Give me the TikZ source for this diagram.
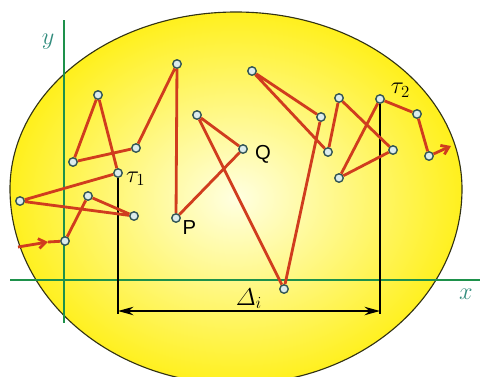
\documentclass[tikz,border=0pt]{standalone}
\usepackage{amsmath}
\usepackage{fontspec}
\newfontfamily\pqfont{Liberation Sans}
\usetikzlibrary{arrows.meta, positioning}

\definecolor{walkred}{RGB}{208,60,30}
\definecolor{dotfill}{RGB}{220,236,236}
\definecolor{dotrim}{RGB}{50,85,85}
\definecolor{axisgreen}{RGB}{30,145,75}
\definecolor{axistext}{RGB}{50,140,125}
\definecolor{ovalin}{RGB}{255,255,225}
\definecolor{ovalout}{RGB}{255,240,30}
\definecolor{ovalrim}{RGB}{50,50,20}

\begin{document}
\begin{tikzpicture}[x=0.025cm, y=-0.025cm, >=Stealth,
    dot/.style={circle, draw=dotrim, fill=dotfill, line width=1pt, minimum size=6pt, inner sep=0pt},
    walk/.style={draw=walkred, line width=2pt, line join=round},
    axis/.style={draw=axisgreen, line width=1.3pt},
    gauge/.style={draw=black, line width=1pt},
    lbl/.style={font=\LARGE, inner sep=1pt}]
  \useasboundingbox (0,0) rectangle (480,376);
  \clip (0,0) rectangle (480,376);

  % the oval
  \shadedraw[inner color=ovalin, outer color=ovalout, draw=ovalrim, line width=0.8pt]
    (10,189) arc[start angle=180, end angle=360, x radius=226, y radius=177]
    arc[start angle=0, end angle=180, x radius=226, y radius=195] -- cycle;

  % axes
  \coordinate (xa) at (10,280);
  \coordinate (xb) at (480,280);
  \coordinate (ya) at (64,20);
  \coordinate (yb) at (64,323);
  \draw[axis] (xa) -- (xb);
  \draw[axis] (ya) -- (yb);
  \node[lbl, text=axistext] (xl) at (466,294) {$x$};
  \node[lbl, text=axistext] (yl) at (48,42) {$y$};

  % points of the walk
  \node[dot] (i)  at (65,241)  {};
  \node[dot] (g)  at (88,196)  {};
  \node[dot] (h)  at (134,216) {};
  \node[dot] (f)  at (20,201)  {};
  \node[dot] (t1) at (118,173) {};
  \node[dot] (a)  at (98,95)   {};
  \node[dot] (b)  at (73,162)  {};
  \node[dot] (c)  at (136,148) {};
  \node[dot] (d)  at (177,64)  {};
  \node[dot] (p)  at (176,218) {};
  \node[dot] (q)  at (243,149) {};
  \node[dot] (e)  at (197,115) {};
  \node[dot] (z)  at (284,289) {};
  \node[dot] (k)  at (321,117) {};
  \node[dot] (j)  at (252,71)  {};
  \node[dot] (l)  at (328,152) {};
  \node[dot] (m)  at (339,98)  {};
  \node[dot] (r)  at (393,150) {};
  \node[dot] (s)  at (339,178) {};
  \node[dot] (t2) at (380,99)  {};
  \node[dot] (o)  at (417,114) {};
  \node[dot] (t)  at (429,156) {};
  \coordinate (in)    at (18,247);
  \coordinate (inarr) at (48,242);
  \coordinate (out)   at (451,146);

  % labels
  \node[lbl, right=1pt of t1, yshift=-4pt] (t1l) {$\tau_1$};
  \node[lbl, right=3pt of t2, yshift=6pt] (t2l) {$\tau_2$};
  \node[lbl, font=\Large\pqfont, below right=-2pt and 1pt of p] (pl) {P};
  \node[lbl, font=\Large\pqfont, right=4pt of q, yshift=-4pt] (ql) {Q};

  % the interval
  \coordinate (f1) at (118,314);
  \coordinate (f2) at (380,314);
  \coordinate (a1) at (118,311);
  \coordinate (a2) at (380,311);
  \draw[gauge] (t1) -- (f1);
  \draw[gauge] (t2) -- (f2);
  \draw[gauge, {Stealth[length=11pt, width=6pt]}-{Stealth[length=11pt, width=6pt]}] (a1) -- node[lbl, above=0pt] (dl) {$\varDelta_i$} (a2);

  % the walk
  \draw[walk, -{Straight Barb[length=5pt, width=7pt]}] (in) -- (inarr);
  \draw[walk] (inarr) -- (i);
  \draw[walk] (i) -- (g) -- (h) -- (f) -- (t1) -- (a) -- (b) -- (c) -- (d) -- (p) -- (q) -- (e)
    -- (z) -- (k) -- (j) -- (l) -- (m) -- (r) -- (s) -- (t2) -- (o) -- (t);
  \draw[walk, -{Straight Barb[length=5pt, width=7pt]}] (t) -- (out);
\end{tikzpicture}
\end{document}
